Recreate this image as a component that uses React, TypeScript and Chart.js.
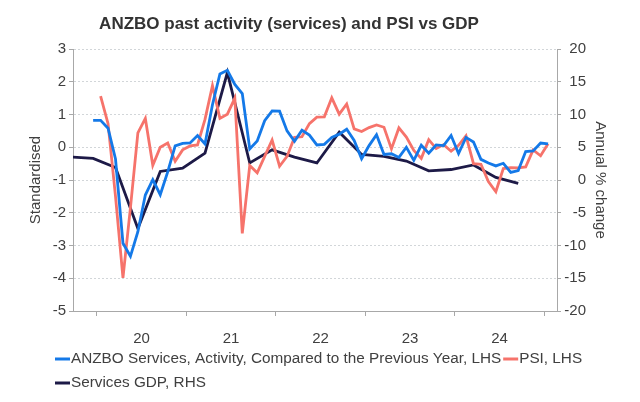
import React, { useEffect, useRef } from 'react';
import { Chart, registerables } from 'chart.js';

Chart.register(...registerables);

// ---- Data ----
const TITLE = 'ANZBO past activity (services) and PSI vs GDP';
const LEFT_TITLE = 'Standardised';
const RIGHT_TITLE = 'Annual % change';

const ANZBO_LABEL = 'ANZBO Services, Activity, Compared to the Previous Year, LHS';
const PSI_LABEL = 'PSI, LHS';
const GDP_LABEL = 'Services GDP, RHS';

// monthly, starting Dec 2019
const anzboStart = '2019-12';
const anzboValues = [
  0.82, 0.82, 0.58, -0.36, -2.93, -3.33, -2.58, -1.46, -0.99, -1.45, -0.75, 0.04, 0.12,
  0.13, 0.36, 0.10, 1.30, 2.24, 2.35, 1.92, 1.64, -0.05, 0.19, 0.81, 1.11,
  1.10, 0.50, 0.18, 0.52, 0.37, 0.07, 0.09, 0.30, 0.40, 0.55, 0.21, -0.35,
  0.05, 0.38, -0.22, -0.20, -0.31, 0.0, -0.40, 0.06, -0.18, 0.07, 0.05, 0.36,
  -0.19, 0.30, 0.16, -0.37, -0.48, -0.57, -0.49, -0.77, -0.71, -0.13, -0.11, 0.13, 0.10,
];

// monthly, starting Jan 2020
const psiStart = '2020-01';
const psiValues = [
  1.56, 0.72, -1.5, -3.99, -1.85, 0.44, 0.88, -0.55, 0.0, 0.13, -0.43, -0.08,
  0.04, 0.07, 0.85, 1.88, 0.88, 1.01, 1.50, -2.63, -0.56, -0.78, -0.28, 0.22,
  -0.58, -0.28, 0.30, 0.32, 0.72, 0.92, 0.93, 1.51, 1.01, 1.32, 0.56, 0.48,
  0.60, 0.68, 0.61, -0.05, 0.59, 0.31, -0.10, -0.34, 0.23, -0.04, 0.08, -0.12,
  0.06, 0.35, -0.50, -0.52, -1.05, -1.36, -0.65, -0.62, -0.63, -0.60, -0.08, -0.26, 0.11,
];

// quarterly, starting Sep 2019 (every 3 months)
const gdpStart = '2019-09';
const gdpValues = [
  3.5, 3.3, 1.9, -7.4, 1.3, 1.8, 4.1, 16.4, 2.6, 4.6, 3.5, 2.6, 7.3, 3.9, 3.6, 2.9,
  1.4, 1.6, 2.3, 0.4, -0.5,
];

const yearLabels = ['20', '21', '22', '23', '24'];
const leftTicks = [-5, -4, -3, -2, -1, 0, 1, 2, 3];
const rightTicks = [-20, -15, -10, -5, 0, 5, 10, 15, 20];

// ---- Styles ----
const BLUE = '#1479e8';
const RED = '#f6736b';
const NAVY = '#1d1a47';
const AXIS = '#a8a8a8';
const GRID = '#d2d6d9';
const TEXT = '#404040';
const FONT = '"Liberation Sans", Arial, Helvetica, sans-serif';

// month index relative to Jan 2020, centred in the month
function monthPos(start: string, offsetMonths: number): number {
  const [y, m] = start.split('-').map(Number);
  return (y - 2020) * 12 + (m - 1) + offsetMonths + 0.5;
}

function series(start: string, values: number[], step: number) {
  return values.map((v, i) => ({ x: monthPos(start, i * step), y: v }));
}

const decorPlugin = {
  id: 'decor',
  afterDraw(chart: any) {
    const { ctx, chartArea: a } = chart;
    ctx.save();
    // Title
    ctx.fillStyle = '#333333';
    ctx.font = `bold 17px ${FONT}`;
    ctx.textAlign = 'center';
    ctx.textBaseline = 'middle';
    ctx.fillText(TITLE, 289, 24);

    // Axis titles
    const midY = (a.top + a.bottom) / 2;
    ctx.font = `15px ${FONT}`;
    ctx.fillStyle = TEXT;
    ctx.save();
    ctx.translate(36, midY);
    ctx.rotate(-Math.PI / 2);
    ctx.fillText(LEFT_TITLE, 0, 0);
    ctx.restore();
    ctx.save();
    ctx.translate(600, midY);
    ctx.rotate(Math.PI / 2);
    ctx.fillText(RIGHT_TITLE, 0, 0);
    ctx.restore();

    // Legend
    ctx.font = `15.3px ${FONT}`;
    ctx.textAlign = 'left';
    ctx.textBaseline = 'middle';
    let x = 55;
    let y = 359;
    const rowH = 24;
    chart.data.datasets.forEach((d: any) => {
      const tw = ctx.measureText(d.label).width;
      const w = 16 + tw + 2;
      if (x + w > 625) {
        x = 55;
        y += rowH;
      }
      ctx.strokeStyle = d.borderColor;
      ctx.lineWidth = 3;
      ctx.beginPath();
      ctx.moveTo(x, y);
      ctx.lineTo(x + 15, y);
      ctx.stroke();
      ctx.fillStyle = TEXT;
      ctx.fillText(d.label, x + 16, y);
      x += w;
    });
    ctx.restore();
  },
};

export default function App() {
  const ref = useRef<HTMLCanvasElement | null>(null);

  useEffect(() => {
    if (!ref.current) return;
    const tickFont = { family: FONT, size: 15 };
    const chart = new Chart(ref.current, {
      type: 'line',
      data: {
        datasets: [
          {
            label: ANZBO_LABEL,
            data: series(anzboStart, anzboValues, 1),
            borderColor: BLUE,
            backgroundColor: BLUE,
            borderWidth: 2.8,
            pointRadius: 0,
            yAxisID: 'y',
          },
          {
            label: PSI_LABEL,
            data: series(psiStart, psiValues, 1),
            borderColor: RED,
            backgroundColor: RED,
            borderWidth: 2.8,
            pointRadius: 0,
            yAxisID: 'y',
          },
          {
            label: GDP_LABEL,
            data: series(gdpStart, gdpValues, 3),
            borderColor: NAVY,
            backgroundColor: NAVY,
            borderWidth: 2.8,
            pointRadius: 0,
            yAxisID: 'y1',
            clip: 0,
          },
        ],
      },
      options: {
        animation: false,
        responsive: false,
        devicePixelRatio: 1,
        layout: { padding: { top: 49, right: 54, bottom: 51, left: 0 } },
        plugins: {
          legend: { display: false },
          title: { display: false },
          tooltip: { enabled: false },
        },
        scales: {
          x: {
            type: 'linear',
            min: -3.2,
            max: 61.7,
            afterBuildTicks: (s: any) => {
              const t: any[] = [];
              for (let v = 0; v <= 60; v += 6) t.push({ value: v });
              s.ticks = t;
            },
            afterFit: (s: any) => {
              s.height = 40;
            },
            ticks: {
              autoSkip: false,
              maxRotation: 0,
              padding: 14,
              color: TEXT,
              font: tickFont,
              callback: (v: any) => (v % 12 === 6 ? yearLabels[(v - 6) / 12] ?? '' : ''),
            },
            grid: {
              drawOnChartArea: false,
              tickLength: 5,
              tickColor: (c: any) => (c.tick && c.tick.value % 12 === 0 ? AXIS : 'rgba(0,0,0,0)'),
            },
            border: { color: AXIS, width: 1 },
          },
          y: {
            position: 'left',
            min: -5,
            max: 3,
            afterBuildTicks: (s: any) => {
              s.ticks = leftTicks.map((v) => ({ value: v }));
            },
            afterFit: (s: any) => {
              s.width = 73;
            },
            ticks: { color: TEXT, font: tickFont, padding: 3 },
            grid: { color: GRID, tickLength: 4, tickColor: AXIS, lineWidth: 1 },
            border: { color: AXIS, width: 1, dash: [2, 2] },
          },
          y1: {
            position: 'right',
            min: -20,
            max: 20,
            afterBuildTicks: (s: any) => {
              s.ticks = rightTicks.map((v) => ({ value: v }));
            },
            afterFit: (s: any) => {
              s.width = 29;
            },
            ticks: { color: TEXT, font: tickFont, padding: 3, crossAlign: 'far' },
            grid: { drawOnChartArea: false, tickLength: 4, tickColor: AXIS },
            border: { color: AXIS, width: 1 },
          },
        },
      },
      plugins: [decorPlugin],
    } as any);
    return () => chart.destroy();
  }, []);

  return (
    <div style={{ position: 'fixed', left: 0, top: 0, width: 640, height: 402, background: '#ffffff' }}>
      <canvas ref={ref} width={640} height={402} style={{ display: 'block', width: 640, height: 402 }} />
    </div>
  );
}
